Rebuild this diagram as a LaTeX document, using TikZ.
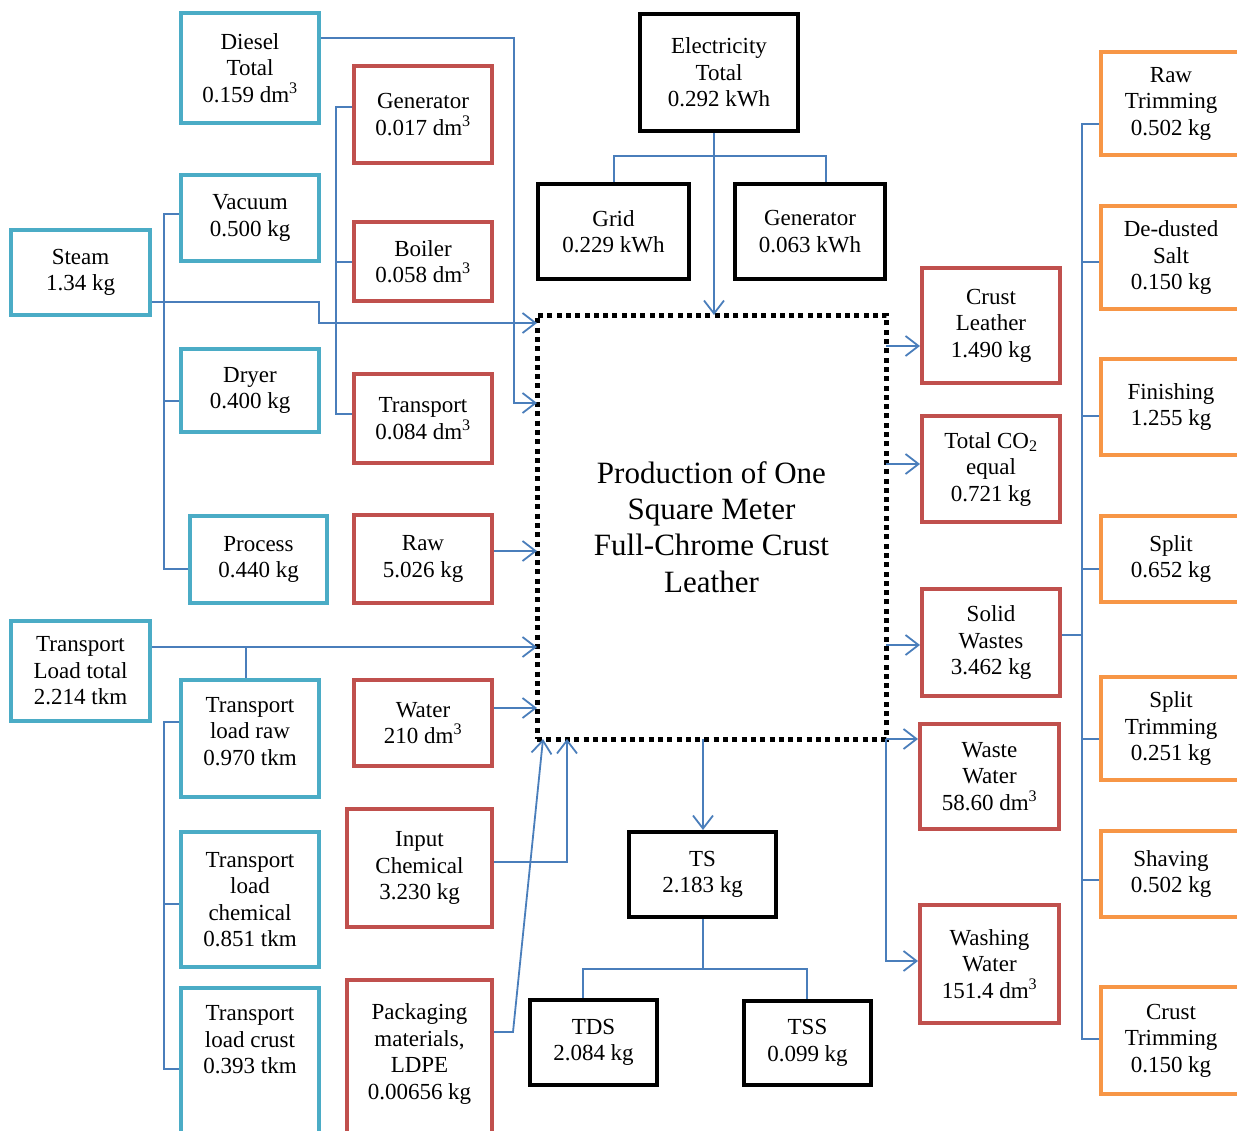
\documentclass[tikz,border=0pt]{standalone}
\usepackage{fontspec}
\setmainfont{Liberation Serif}
\usetikzlibrary{arrows.meta}
\definecolor{cyanb}{RGB}{75,172,198}
\definecolor{redb}{RGB}{192,80,77}
\definecolor{orangeb}{RGB}{247,150,70}
\definecolor{conncol}{RGB}{74,126,187}
\begin{document}
\begin{tikzpicture}[x=1pt,y=-1pt,
  box/.style={draw, line width=4pt, align=center, font=\fontsize{23}{26.5}\selectfont, inner sep=2pt},
  cbox/.style={box, draw=cyanb},
  rbox/.style={box, draw=redb},
  kbox/.style={box, draw=black},
  obox/.style={box, draw=orangeb},
  txt/.style={align=center, font=\fontsize{23}{26.5}\selectfont, inner sep=0pt},
  conn/.style={draw=conncol, line width=1.8pt},
  arr/.style={conn, -{Straight Barb[length=13pt,width=20pt]}},
]
\clip (0,0) rectangle (1237,1130);
\fill[white] (0,0) rectangle (1237,1130);

% cyan boxes
\node[cbox, minimum width=138, minimum height=110] (diesel) at (250,68) {Diesel\\Total\\0.159 dm\textsuperscript{3}};
\node[cbox, minimum width=138, minimum height=86] (vacuum) at (250,218) {Vacuum\\0.500 kg};
\node[cbox, minimum width=139, minimum height=85] (steam) at (80.5,272.5) {Steam\\1.34 kg};
\node[cbox, minimum width=138, minimum height=83] (dryer) at (250,390.5) {Dryer\\0.400 kg};
\node[cbox, minimum width=137, minimum height=87] (process) at (258.5,559.5) {Process\\0.440 kg};
\node[cbox, minimum width=139, minimum height=100] (tltotal) at (80.5,671) {Transport\\Load total\\2.214 tkm};
\node[cbox, minimum width=138, minimum height=117] (tlraw) at (250,738.5) {Transport\\load raw\\0.970 tkm\\[-12pt]\mbox{}};
\node[cbox, minimum width=138, minimum height=135] (tlchem) at (250,899.5) {Transport\\load\\chemical\\0.851 tkm};
\node[cbox, minimum width=138, minimum height=164, anchor=north] (tlcrust) at (250,986) {};
\node[txt] (tlcrusttxt) at (250,1040) {Transport\\load crust\\0.393 tkm};

% red boxes left
\node[rbox, minimum width=138, minimum height=97] (gen) at (423,114.5) {Generator\\0.017 dm\textsuperscript{3}};
\node[rbox, minimum width=138, minimum height=79] (boiler) at (423,261.5) {Boiler\\0.058 dm\textsuperscript{3}};
\node[rbox, minimum width=138, minimum height=89] (transp) at (423,418.5) {Transport\\0.084 dm\textsuperscript{3}};
\node[rbox, minimum width=138, minimum height=88] (raw) at (423,559) {Raw\\5.026 kg};
\node[rbox, minimum width=138, minimum height=86] (water) at (423,723) {Water\\210 dm\textsuperscript{3}};
\node[rbox, minimum width=145, minimum height=118] (inchem) at (419.5,868) {Input\\Chemical\\3.230 kg};
\node[rbox, minimum width=145, minimum height=170, anchor=north] (pack) at (419.5,978) {};
\node[txt] (packtxt) at (419.5,1054) {Packaging\\materials,\\LDPE\\0.00656 kg};

% black boxes
\node[kbox, minimum width=158, minimum height=117] (elec) at (719,72.5) {Electricity\\Total\\0.292 kWh};
\node[kbox, minimum width=151, minimum height=95] (grid) at (613.5,231.5) {Grid\\0.229 kWh};
\node[kbox, minimum width=150, minimum height=95] (genk) at (810,231.5) {Generator\\0.063 kWh};
\node[draw, line width=5pt, dash pattern=on 5pt off 4.3pt, outer sep=0pt, minimum width=349, minimum height=424,
      align=center, font=\fontsize{31}{36.3}\selectfont] (center) at (711.5,527)
      {Production of One\\Square Meter\\Full-Chrome Crust\\Leather};
\node[kbox, minimum width=147, minimum height=85] (ts) at (702.5,874.5) {TS\\2.183 kg};
\node[kbox, minimum width=127, minimum height=85] (tds) at (593.5,1042.5) {TDS\\2.084 kg};
\node[kbox, minimum width=127, minimum height=84] (tss) at (807.5,1043) {TSS\\0.099 kg};

% red boxes right
\node[rbox, minimum width=138, minimum height=115] (crust) at (991,325.5) {Crust\\Leather\\1.490 kg};
\node[rbox, minimum width=138, minimum height=106] (co2) at (991,469) {Total CO\textsubscript{2}\\equal\\0.721 kg};
\node[rbox, minimum width=138, minimum height=107] (solid) at (991,642.5) {Solid\\Wastes\\3.462 kg};
\node[rbox, minimum width=139, minimum height=105] (wwater) at (989.5,776.5) {Waste\\Water\\58.60 dm\textsuperscript{3}};
\node[rbox, minimum width=139, minimum height=118] (wash) at (989.5,964) {Washing\\Water\\151.4 dm\textsuperscript{3}};

% orange boxes
\node[obox, minimum width=140, minimum height=103] (rawtrim) at (1171,103.5) {Raw\\Trimming\\0.502 kg};
\node[obox, minimum width=140, minimum height=103] (dedust) at (1171,257.5) {De-dusted\\Salt\\0.150 kg};
\node[obox, minimum width=140, minimum height=96] (finish) at (1171,407) {Finishing\\1.255 kg};
\node[obox, minimum width=140, minimum height=86] (split) at (1171,559) {Split\\0.652 kg};
\node[obox, minimum width=140, minimum height=103] (splittrim) at (1171,728.5) {Split\\Trimming\\0.251 kg};
\node[obox, minimum width=140, minimum height=86] (shaving) at (1171,874) {Shaving\\0.502 kg};
\node[obox, minimum width=140, minimum height=107] (crusttrim) at (1171,1040.5) {Crust\\Trimming\\0.150 kg};

% connectors: inputs
\draw[arr] (diesel.east |- 0,38) -- (514,38) -- (514,403) -- (center.west |- 0,403);
\draw[arr] (steam.east |- 0,302) -- (319,302) -- (319,323) -- (center.west |- 0,323);
\draw[conn] (vacuum.west |- 0,214) -- (164,214) -- (164,569) -- (process.west |- 0,569);
\draw[conn] (164,401) -- (dryer.west |- 0,401);
\draw[conn] (gen.west |- 0,107) -- (336,107) -- (336,414) -- (transp.west |- 0,414);
\draw[conn] (336,262) -- (boiler.west |- 0,262);
\draw[arr] (raw.east |- 0,551) -- (center.west |- 0,551);
\draw[arr] (tltotal.east |- 0,647) -- (center.west |- 0,647);
\draw[conn] (246,647) -- (tlraw.north -| 246,0);
\draw[conn] (tlraw.west |- 0,722) -- (164,722) -- (164,1069) -- (tlcrust.west |- 0,1069);
\draw[conn] (164,904) -- (tlchem.west |- 0,904);
\draw[arr] (water.east |- 0,708) -- (center.west |- 0,708);
\draw[arr] (inchem.east |- 0,862) -- (567,862) -- (center.south -| 567,0);
\draw[arr] (pack.east |- 0,1032) -- (513,1032) -- (center.south -| 543,0);

% electricity
\draw[arr] (elec.south -| 714,0) -- (center.north -| 714,0);
\draw[conn] (grid.north -| 614,0) -- (614,156) -- (826,156) -- (genk.north -| 826,0);

% TS
\draw[arr] (center.south -| 703,0) -- (ts.north -| 703,0);
\draw[conn] (ts.south -| 703,0) -- (703,969);
\draw[conn] (tds.north -| 583,0) -- (583,969) -- (807,969) -- (tss.north -| 807,0);

% outputs
\draw[arr] (center.east |- 0,346) -- (crust.west |- 0,346);
\draw[arr] (center.east |- 0,464) -- (co2.west |- 0,464);
\draw[arr] (center.east |- 0,645) -- (solid.west |- 0,645);
\draw[arr] (center.south east) -- (wwater.west |- 0,739);
\draw[arr] (center.south east) -- (center.east |- 0,961) -- (wash.west |- 0,961);

% solid waste tree
\draw[conn] (rawtrim.west |- 0,124) -- (1082,124) -- (1082,1039) -- (crusttrim.west |- 0,1039);
\draw[conn] (1082,262) -- (dedust.west |- 0,262);
\draw[conn] (1082,416) -- (finish.west |- 0,416);
\draw[conn] (1082,569) -- (split.west |- 0,569);
\draw[conn] (1082,739) -- (splittrim.west |- 0,739);
\draw[conn] (1082,880) -- (shaving.west |- 0,880);
\draw[conn] (solid.east |- 0,635) -- (1082,635);
\end{tikzpicture}
\end{document}
